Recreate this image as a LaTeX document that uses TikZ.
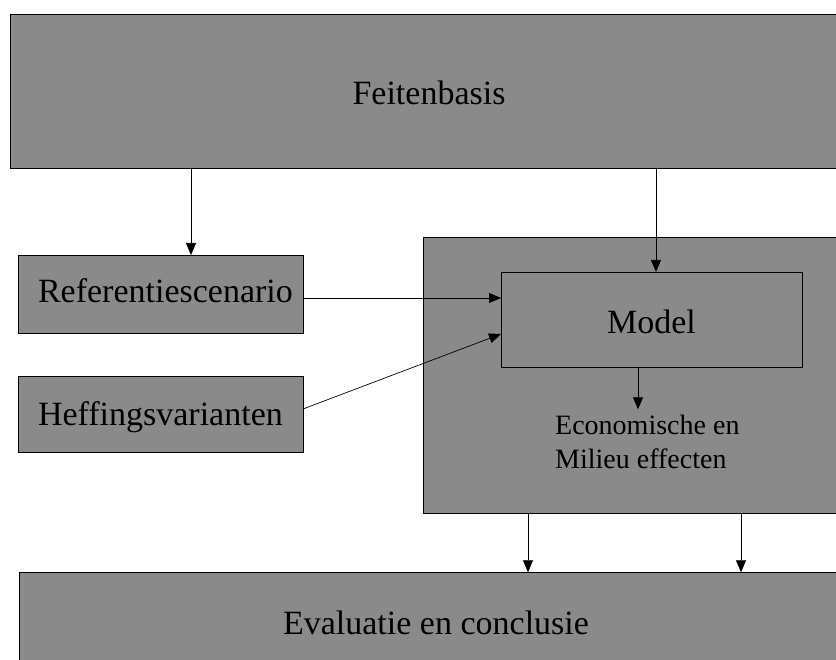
\documentclass[tikz,border=0pt]{standalone}
\usepackage{fontspec}
\setmainfont{Liberation Serif}
\usetikzlibrary{arrows.meta}
\definecolor{blokgrijs}{RGB}{138,138,138}

\begin{document}
\begin{tikzpicture}[x=1pt,y=-1pt,
  blok/.style={shape=rectangle,draw=black,fill=blokgrijs,line width=0.8pt,inner sep=0pt,outer sep=0pt,text depth=0pt,font=\fontsize{34}{40}\selectfont},
  invoer/.style={blok,inner xsep=20pt,text width=245pt,align=left,minimum width=285},
  pijl/.style={-{Triangle[length=12pt,width=10pt]},line width=0.7pt}]
  \useasboundingbox (0,0) rectangle (836,660);
  \clip (0,0) rectangle (836,660);
  \fill[white] (0,0) rectangle (836,660);
  \node[blok,minimum width=838,minimum height=154,text height=26.6pt] (feiten) at (429,91) {Feitenbasis};
  \node[invoer,minimum height=78,text height=17.4pt] (ref) at (160.5,294) {Referentiescenario};
  \node[invoer,minimum height=76,text height=22.6pt] (heff) at (160.5,414.7) {Heffingsvarianten};
  \node[blok,minimum width=457,minimum height=276] (kern) at (651.5,375) {};
  \node[blok,minimum width=301,minimum height=95,text height=27.6pt] (model) at (651.5,319.5) {Model};
  \node[anchor=west,align=left,inner xsep=0pt,inner ysep=6pt,font=\fontsize{28}{33.3}\selectfont] (effecten) at (555,442) {Economische en\\Milieu effecten};
  \node[blok,minimum width=834,minimum height=98,text height=26pt] (eval) at (436,621.3) {Evaluatie en conclusie};
  \coordinate (k1) at (191,0);
  \coordinate (k2) at (656,0);
  \coordinate (k3) at (0,298);
  \coordinate (k4) at (0,409);
  \coordinate (k5) at (0,334);
  \coordinate (k6) at (638,0);
  \coordinate (k8) at (528,0);
  \coordinate (k9) at (741,0);
  \draw[pijl] (feiten.south -| k1) -- (ref.north -| k1);
  \draw[pijl] (feiten.south -| k2) -- (model.north -| k2);
  \draw[pijl] (ref.east |- k3) -- (model.west |- k3);
  \draw[pijl] (heff.east |- k4) -- (model.west |- k5);
  \draw[pijl] (model.south -| k6) -- (effecten.north -| k6);
  \draw[pijl] (kern.south -| k8) -- (eval.north -| k8);
  \draw[pijl] (kern.south -| k9) -- (eval.north -| k9);
\end{tikzpicture}
\end{document}
